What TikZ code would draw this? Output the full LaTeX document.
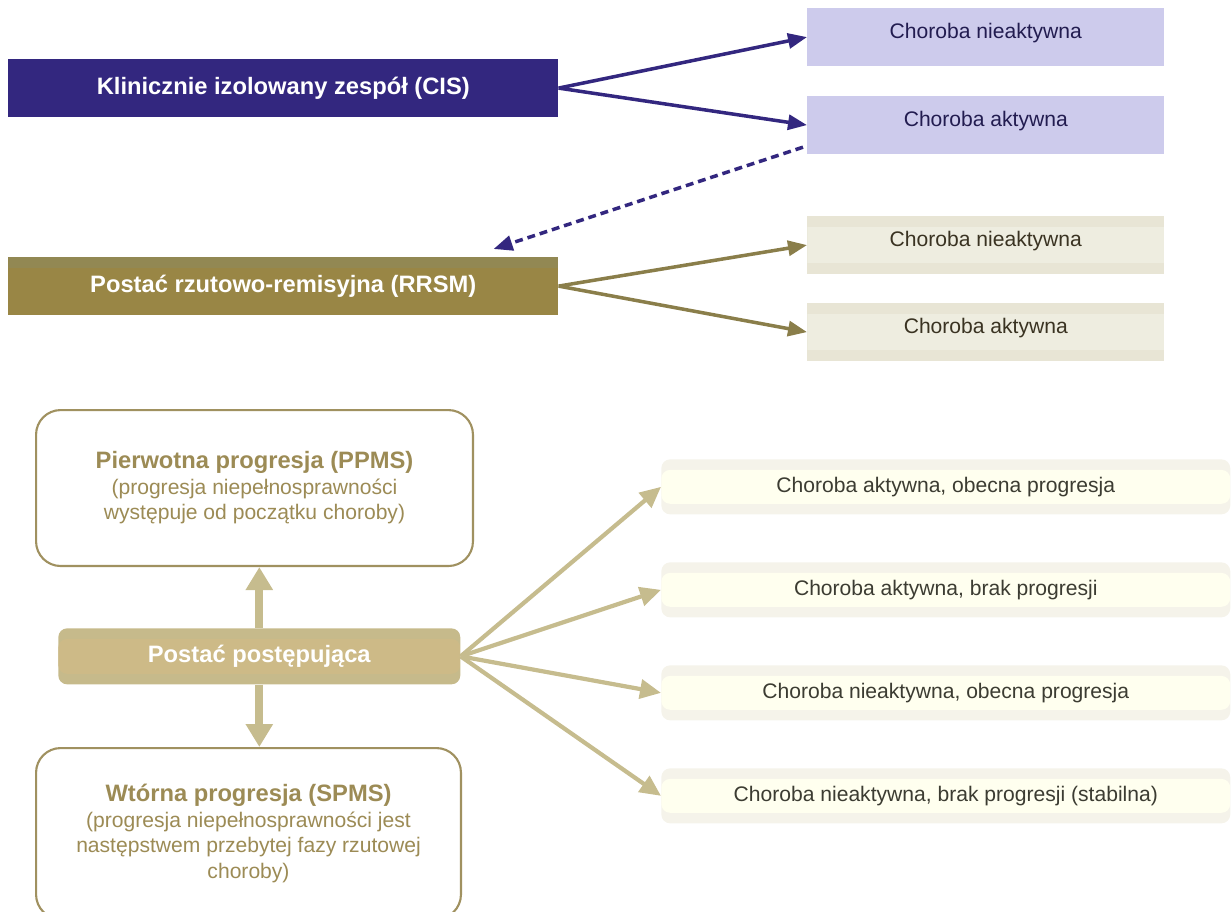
\documentclass[tikz,border=0pt]{standalone}
\usepackage{fontspec}
\setmainfont{Liberation Sans}
\usepackage{tikz}
\usetikzlibrary{positioning, arrows.meta, calc}

\definecolor{cisBlue}{HTML}{33277F}
\definecolor{cisLight}{HTML}{CDCBEC}
\definecolor{cisText}{HTML}{221C50}
\definecolor{rrsmOlive}{HTML}{998645}
\definecolor{rrsmTop}{HTML}{928853}
\definecolor{rrsmLine}{HTML}{8A7E4A}
\definecolor{rrsmLight}{HTML}{EEEDE0}
\definecolor{rrsmBand}{HTML}{E8E5D5}
\definecolor{rrsmText}{HTML}{3A3322}
\definecolor{progGold}{HTML}{CDBA87}
\definecolor{progGoldBand}{HTML}{C6BA8B}
\definecolor{progLine}{HTML}{C6BC8E}
\definecolor{progText}{HTML}{9C8B55}
\definecolor{progBorder}{HTML}{A09160}
\definecolor{progCream}{HTML}{FFFFEF}
\definecolor{progBand}{HTML}{F5F3EA}
\definecolor{darkText}{HTML}{3C3C32}

\begin{document}
\begin{tikzpicture}[x=0.02cm, y=-0.02cm,
    mainBox/.style={minimum width=11cm, minimum height=1.15cm, anchor=north west, inner sep=0pt,
      text=white, font=\fontsize{13.5}{16}\selectfont\bfseries},
    stateBox/.style={minimum width=7.14cm, minimum height=1.15cm, anchor=north west, inner sep=0pt,
      font=\fontsize{12}{15}\selectfont, text height=8pt, text depth=6pt},
    bandFill/.style 2 args={fill=#1, path picture={\fill[#2] ([yshift=-6pt]path picture bounding box.north west)
      rectangle ([yshift=6pt]path picture bounding box.south east);}},
    topBand/.style={path picture={\fill[#1] (path picture bounding box.north west)
      rectangle ([yshift=-6pt]path picture bounding box.north east);}},
    formBox/.style={draw=progBorder, line width=1.2pt, rounded corners=14pt, fill=white, anchor=north west,
      align=center, text=progText, font=\fontsize{12}{14.5}\selectfont},
    courseBox/.style={rounded corners=5pt, minimum width=11.38cm, minimum height=1.1cm, anchor=north west,
      inner sep=0pt, text=darkText, font=\fontsize{12}{15}\selectfont, bandFill={progBand}{progCream}},
    cisArrow/.style={draw=cisBlue, line width=2pt, -{Triangle[length=0.38cm, width=0.3cm]}},
    rrsmArrow/.style={draw=rrsmLine, line width=2pt, -{Triangle[length=0.38cm, width=0.3cm]}},
    progArrow/.style={draw=progLine, line width=2.4pt, -{Triangle[length=0.42cm, width=0.38cm]}},
    bigArrow/.style={draw=progLine, line width=4.4pt, -{Triangle[length=0.46cm, width=0.52cm]}}]
  \useasboundingbox (0,0) rectangle (1231,912);

  % CIS with its two outcomes
  \node[mainBox, fill=cisBlue] (cis) at (8,59) {Klinicznie izolowany zespół (CIS)};
  \node[stateBox, fill=cisLight, text=cisText] (cisInactive) at (807,8) {Choroba nieaktywna};
  \node[stateBox, fill=cisLight, text=cisText] (cisActive) at (807,96) {Choroba aktywna};

  % RRSM with its two outcomes
  \node[mainBox, fill=rrsmOlive, topBand=rrsmTop] (rrsm) at (8,257) {Postać rzutowo-remisyjna (RRSM)};
  \node[stateBox, bandFill={rrsmBand}{rrsmLight}, text=rrsmText] (rrsmInactive) at (807,216) {Choroba nieaktywna};
  \node[stateBox, bandFill={rrsmBand}{rrsmLight}, text=rrsmText] (rrsmActive) at (807,303) {Choroba aktywna};

  \draw[cisArrow] (cis.east) -- (cisInactive.west);
  \draw[cisArrow] (cis.east) -- (cisActive.west);
  \coordinate (dashStart) at ($(cisActive.south west)+(-4,-7)$);
  \coordinate (rrsmIn) at ($(rrsm.north east)+(-65,-8)$);
  \draw[cisArrow, dash pattern=on 4.5pt off 2.8pt] (dashStart) -- (rrsmIn);
  \draw[rrsmArrow] (rrsm.east) -- (rrsmInactive.west);
  \draw[rrsmArrow] (rrsm.east) -- (rrsmActive.west);

  % progressive forms
  \node[formBox, minimum width=8.74cm, minimum height=3.12cm] (ppms) at (35,409)
    {{\fontsize{13.5}{16}\selectfont\bfseries Pierwotna progresja (PPMS)}\\
     (progresja niepełnosprawności\\występuje od początku choroby)};
  \node[rounded corners=5pt, minimum width=8.04cm, minimum height=1.12cm, anchor=north west, inner sep=0pt,
    bandFill={progGoldBand}{progGold}, text=white, font=\fontsize{13.5}{16}\selectfont\bfseries]
    (postac) at (58,628) {Postać postępująca};
  \node[formBox, minimum width=8.5cm, minimum height=3.42cm] (spms) at (35,747)
    {{\fontsize{13.5}{16}\selectfont\bfseries Wtórna progresja (SPMS)}\\
     (progresja niepełnosprawności jest\\następstwem przebytej fazy rzutowej\\choroby)};

  \draw[bigArrow] (postac.north) -- (postac.north |- ppms.south);
  \draw[bigArrow] (postac.south) -- (postac.south |- spms.north);

  \node[courseBox] (courseA) at (661,459) {Choroba aktywna, obecna progresja};
  \node[courseBox] (courseB) at (661,562) {Choroba aktywna, brak progresji};
  \node[courseBox] (courseC) at (661,665) {Choroba nieaktywna, obecna progresja};
  \node[courseBox] (courseD) at (661,768) {Choroba nieaktywna, brak progresji (stabilna)};

  \foreach \target in {courseA, courseB, courseC, courseD}
    \draw[progArrow] (postac.east) -- (\target.west);
\end{tikzpicture}
\end{document}
